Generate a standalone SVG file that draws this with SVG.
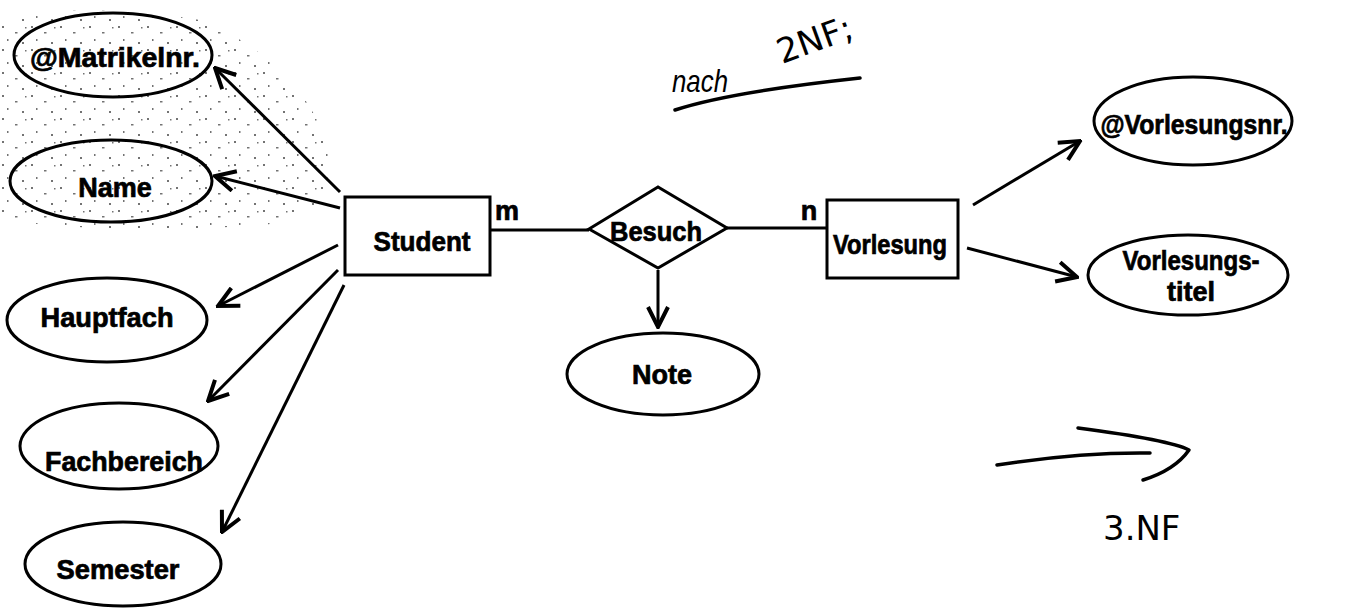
<svg xmlns="http://www.w3.org/2000/svg" width="1355" height="608" viewBox="0 0 1355 608">
<style>
.shape{fill:none;stroke:#000;stroke-width:3}
.lbl{font-family:"Liberation Sans",Arial,sans-serif;font-weight:bold;font-size:27px;fill:#000;stroke:#000;stroke-width:0.7;text-anchor:middle}
.conn{fill:none;stroke:#000;stroke-width:3}
.hand{font-family:"DejaVu Sans",sans-serif;font-size:34px;fill:#000}
.ink{fill:none;stroke:#000;stroke-width:3.5;stroke-linecap:round;stroke-linejoin:round}
</style>
<defs>
<marker id="arr" viewBox="0 0 12 12" refX="11" refY="6" markerWidth="8" markerHeight="8" markerUnits="strokeWidth" orient="auto">
<path d="M1,1 L11,6 L1,11" fill="none" stroke="#000" stroke-width="2"/>
</marker>
<pattern id="noise" width="29" height="23" patternUnits="userSpaceOnUse">
<rect x="2" y="3" width="2" height="2" fill="#000"/>
<rect x="15" y="9" width="2.5" height="1.5" fill="#000"/>
<rect x="7" y="16" width="1.5" height="2" fill="#000"/>
<rect x="22" y="19" width="2" height="2" fill="#000"/>
<rect x="25" y="4" width="1.5" height="1.5" fill="#000"/>
</pattern>
</defs>
<rect width="1355" height="608" fill="#fff"/>
<path d="M0,20 Q80,0 200,20 Q300,60 330,150 Q340,220 260,225 Q120,235 0,220 Z" fill="url(#noise)" opacity="0.55"/>

<g id="connectors">
<line class="conn" x1="340" y1="192" x2="215" y2="68" marker-end="url(#arr)"/>
<line class="conn" x1="340" y1="208" x2="215" y2="176" marker-end="url(#arr)"/>
<line class="conn" x1="338" y1="245" x2="218" y2="306" marker-end="url(#arr)"/>
<line class="conn" x1="338" y1="270" x2="208" y2="401" marker-end="url(#arr)"/>
<line class="conn" x1="344" y1="285" x2="222" y2="532" marker-end="url(#arr)"/>
<line class="conn" x1="490" y1="230" x2="589" y2="230"/>
<line class="conn" x1="727" y1="228" x2="827" y2="228"/>
<line class="conn" x1="658" y1="270" x2="658" y2="327" marker-end="url(#arr)"/>
<line class="conn" x1="973" y1="205" x2="1080" y2="141" marker-end="url(#arr)"/>
<line class="conn" x1="967" y1="248" x2="1077" y2="277" marker-end="url(#arr)"/>
<text class="lbl" x="507" y="220" font-size="23">m</text>
<text class="lbl" x="809" y="220" font-size="23">n</text>
</g>

<g id="matrikelnr">
<ellipse class="shape" cx="113" cy="55" rx="99" ry="42"/>
<text class="lbl" x="115" y="67" textLength="170" lengthAdjust="spacingAndGlyphs">@Matrikelnr.</text>
</g>
<g id="name">
<ellipse class="shape" cx="111" cy="181" rx="101" ry="41"/>
<text class="lbl" x="115" y="197">Name</text>
</g>
<g id="hauptfach">
<ellipse class="shape" cx="107" cy="320" rx="100" ry="42"/>
<text class="lbl" x="107" y="327" textLength="133" lengthAdjust="spacingAndGlyphs">Hauptfach</text>
</g>
<g id="fachbereich">
<ellipse class="shape" cx="119" cy="446" rx="99" ry="43"/>
<text class="lbl" x="124" y="471" textLength="158" lengthAdjust="spacingAndGlyphs">Fachbereich</text>
</g>
<g id="semester">
<ellipse class="shape" cx="123" cy="564" rx="98" ry="42"/>
<text class="lbl" x="118" y="579" textLength="123" lengthAdjust="spacingAndGlyphs">Semester</text>
</g>
<g id="student">
<rect class="shape" x="345" y="197" width="145" height="78"/>
<text class="lbl" x="422" y="251" textLength="97" lengthAdjust="spacingAndGlyphs">Student</text>
</g>
<g id="besuch">
<polygon class="shape" points="589,229 658,187 727,228 658,268"/>
<text class="lbl" x="656" y="241" textLength="92" lengthAdjust="spacingAndGlyphs">Besuch</text>
</g>
<g id="note">
<ellipse class="shape" cx="663" cy="374" rx="96" ry="41"/>
<text class="lbl" x="662" y="384" textLength="60" lengthAdjust="spacingAndGlyphs">Note</text>
</g>
<g id="vorlesung">
<rect class="shape" x="827" y="200" width="131" height="78"/>
<text class="lbl" x="890" y="254" textLength="114" lengthAdjust="spacingAndGlyphs">Vorlesung</text>
</g>
<g id="vorlesungsnr">
<ellipse class="shape" cx="1193" cy="121" rx="99" ry="44"/>
<text class="lbl" x="1194" y="134" textLength="187" lengthAdjust="spacingAndGlyphs">@Vorlesungsnr.</text>
</g>
<g id="vorlesungstitel">
<ellipse class="shape" cx="1188" cy="275" rx="100" ry="40"/>
<text class="lbl" x="1191" y="270" textLength="137" lengthAdjust="spacingAndGlyphs">Vorlesungs-</text>
<text class="lbl" x="1191" y="301">titel</text>
</g>

<g id="notes">
<text x="672" y="92" font-family="'Liberation Sans',Arial,sans-serif" font-style="italic" font-size="32" textLength="56" lengthAdjust="spacingAndGlyphs">nach</text>
<text class="hand" x="782" y="64" transform="rotate(-20 782 64)">2NF;</text>
<path class="ink" d="M675,110 Q730,92 860,78"/>
<path class="ink" d="M997,465 Q1080,452 1150,453"/>
<path class="ink" d="M1078,428 Q1170,440 1189,450 Q1175,470 1143,480"/>
<text class="hand" x="1103" y="540" font-size="38">3.NF</text>
</g>
</svg>
